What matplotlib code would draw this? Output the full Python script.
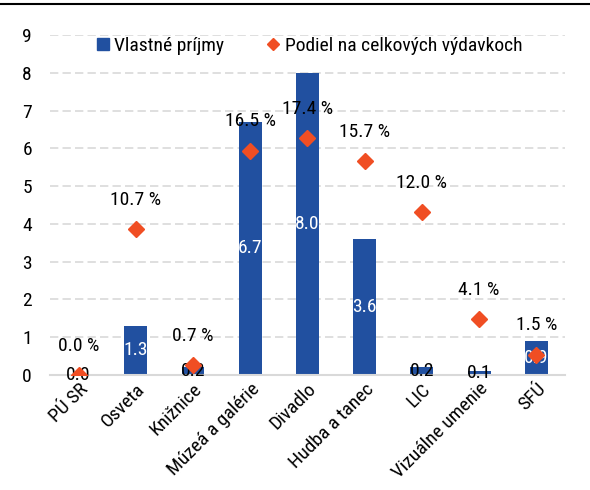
import matplotlib.pyplot as plt
from matplotlib.lines import Line2D
import numpy as np

plt.rcParams['font.family'] = ['Roboto Condensed', 'Liberation Sans', 'DejaVu Sans']

categories = ["PÚ SR", "Osveta", "Knižnice", "Múzeá a galérie", "Divadlo",
              "Hudba a tanec", "LIC", "Vizuálne umenie", "SFÚ"]
vlastne_prijmy = [0.0, 1.3, 0.2, 6.7, 8.0, 3.6, 0.2, 0.1, 0.9]
podiel = [0.0, 10.7, 0.7, 16.5, 17.4, 15.7, 12.0, 4.1, 1.5]

blue = '#2150a0'
orange = '#f04e23'

fig = plt.figure(figsize=(5.9, 4.9), dpi=100)
ax = fig.add_axes([0.0847, 0.2347, 0.8729, 0.6939])
x = np.arange(len(categories))

bars = ax.bar(x, vlastne_prijmy, width=0.4, color=blue, zorder=2)
ax.set_xlim(-0.5, len(categories) - 0.5)
ax.set_ylim(0, 9)
ax.set_yticks(range(10))
ax.yaxis.grid(True, linestyle=(0, (5, 2.5)), color='#d9d9d9', linewidth=1.2, zorder=0)
ax.set_axisbelow(True)
for s in ['top', 'right', 'left']:
    ax.spines[s].set_visible(False)
ax.spines['bottom'].set_color('#d9d9d9')
ax.spines['bottom'].set_linewidth(1.5)
ax.tick_params(axis='both', length=0, labelsize=14)
ax.tick_params(axis='y', pad=13)
ax.set_xticks(x)
ax.set_xticklabels(categories, rotation=45, ha='right', rotation_mode='anchor')

# bar value labels
for i, v in enumerate(vlastne_prijmy):
    c = 'white' if v >= 0.5 else 'black'
    ax.text(i, v / 2, f"{v:.1f}", ha='center', va='center', color=c, fontsize=14, zorder=4)

# share on hidden secondary axis
ax2 = ax.twinx()
ax2.set_ylim(0, 25)
ax2.axis('off')
ax2.plot(x, podiel, linestyle='none', marker='D', markersize=8, color=orange, zorder=3)
for i, p in enumerate(podiel):
    ax2.annotate(f"{p:.1f} %", (i, p), xytext=(0, 21), textcoords='offset points',
                 ha='center', va='center', fontsize=14)

handles = [Line2D([], [], linestyle='none', marker='s', markersize=8, color=blue),
           Line2D([], [], linestyle='none', marker='D', markersize=6, color=orange)]
ax.legend(handles, ["Vlastné príjmy", "Podiel na celkových výdavkoch"], loc='upper center',
          bbox_to_anchor=(0.5, 1.045), ncol=2, frameon=False, fontsize=14,
          handletextpad=0.1, columnspacing=2.0, handlelength=1)

# rule at the top of the cropped picture
fig.add_artist(Line2D([0, 1], [0.992, 0.992], color='black', linewidth=1.5))

fig.savefig("out.png", dpi=100)
